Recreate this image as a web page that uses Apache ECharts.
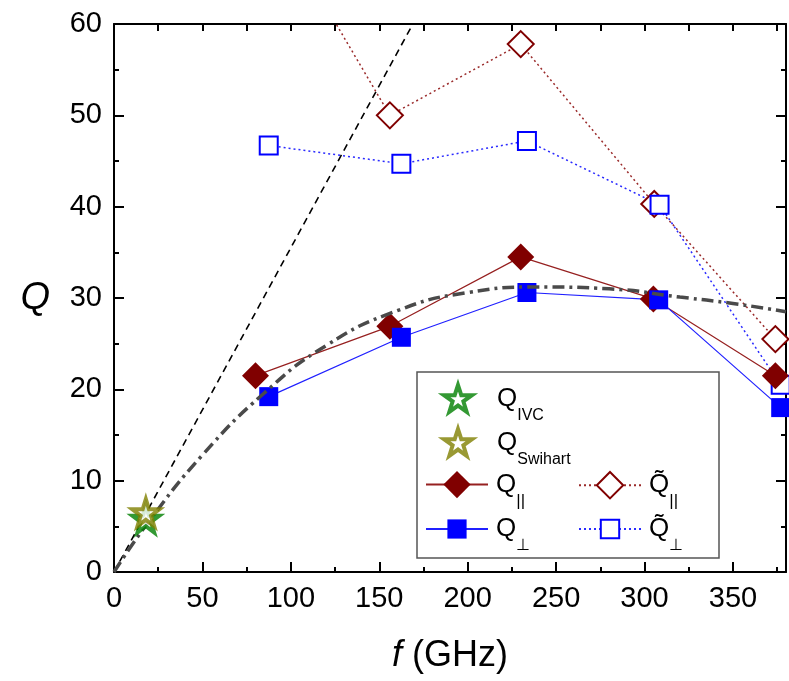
<!DOCTYPE html>
<html>
<head>
<meta charset="utf-8">
<script src="https://cdn.jsdelivr.net/npm/echarts@6/dist/echarts.min.js"></script>
<style>
  html, body { margin: 0; padding: 0; background: #fff; }
  #chart { width: 789px; height: 681px; }
</style>
</head>
<body>
<div id="chart"></div>
<script>
// 频率 (GHz) 与品质因数 Q
var fPar = [80, 156, 230, 305, 374];
var qPar = [21.5, 26.9, 34.5, 29.9, 21.5];
var fPerp = [87.5, 162.5, 233.5, 308, 377];
var qPerp = [19.2, 25.7, 30.6, 29.8, 18.0];
var fParT = [80, 156, 230, 305.5, 374];
var qParT = [75, 50.0, 57.8, 40.3, 25.5];
var fPerpT = [87.5, 162.5, 233.5, 308.5, 377];
var qPerpT = [46.7, 44.7, 47.2, 40.2, 20.5];
var ivc = [18, 5.8];
var swihart = [18, 6.5];
// 虚线（过原点的直线）
var fDash = [0, 169];
var qDash = [0, 60];
// 点划线拟合曲线
var fFit = [0, 20, 50, 85, 120, 160, 200, 240, 280, 320, 350, 380];
var qFit = [0, 5.6, 12.8, 19.6, 24.8, 28.6, 30.6, 31.2, 31.0, 30.1, 29.4, 28.5];

function pairs(xs, ys) {
    return xs.map(function (x, i) { return [x, ys[i]]; });
}

var starPath = 'path://M50,2 L61,36 L97,36 L68,57 L79,92 L50,71 L21,92 L32,57 L3,36 L39,36 Z';
var font = '"Liberation Sans", Arial, sans-serif';

var legendNames = {
    'IVC': '{qs|Q}{sub|IVC}',
    'Swihart': '{qs|Q}{sub|Swihart}',
    'par': '{q|Q}{bar|||}',
    'perp': '{q|Q}{sub|\u22A5}',
    'parT': '{q|Q\u0303}{bar|||}',
    'perpT': '{q|Q\u0303}{sub|\u22A5}'
};

var rich = {
    q: { fontSize: 26, lineHeight: 50, fontFamily: font, color: '#000', padding: [0, 0, 0, 3] },
    qs: { fontSize: 26, lineHeight: 50, fontFamily: font, color: '#000', padding: [0, 0, 0, 20] },
    sub: { fontSize: 16, lineHeight: 14, verticalAlign: 'bottom', fontFamily: font, color: '#000' },
    bar: { fontSize: 17, lineHeight: 18, verticalAlign: 'bottom', fontFamily: font, color: '#000' }
};

function legendAt(name, left, top, w, h, itemStyle) {
    var lg = {
        data: [name],
        left: left,
        top: top,
        padding: 0,
        itemWidth: w,
        itemHeight: h,
        selectedMode: false,
        formatter: function (n) { return legendNames[n]; },
        textStyle: { rich: rich }
    };
    if (itemStyle) lg.itemStyle = itemStyle;
    return lg;
}

var chart = echarts.init(document.getElementById('chart'));

var tickLabel = { color: '#000', fontSize: 29, fontFamily: font };

var option = {
    animation: false,
    backgroundColor: '#fff',
    grid: { left: 114, right: 3, top: 24, bottom: 109 },
    graphic: [{
        type: 'rect',
        shape: { x: 417, y: 372, width: 302, height: 186 },
        style: { fill: '#fff', stroke: '#555', lineWidth: 1.5 },
        z: 1
    }],
    legend: [
        legendAt('IVC', 442, 383, 28, 28, { borderWidth: 4 }),
        legendAt('Swihart', 442, 427, 28, 28, { borderWidth: 4 }),
        legendAt('par', 425, 471, 62, 34),
        legendAt('perp', 425, 516, 62, 24),
        legendAt('parT', 578, 471, 62, 33),
        legendAt('perpT', 578, 516, 62, 23)
    ],
    xAxis: [{
        type: 'value', min: 0, max: 380, interval: 50,
        name: '{i|f} (GHz)', nameLocation: 'middle', nameGap: 66,
        nameTextStyle: {
            fontSize: 36, fontFamily: font, color: '#000',
            rich: { i: { fontSize: 36, fontStyle: 'italic', fontFamily: font, color: '#000' } }
        },
        axisLine: { onZero: false, lineStyle: { color: '#000', width: 2 } },
        axisTick: { inside: true, length: 10, lineStyle: { width: 2, color: '#000' } },
        axisLabel: Object.assign({ margin: 12, showMaxLabel: false }, tickLabel),
        splitLine: { show: false }
    }, {
        type: 'value', min: 0, max: 380, interval: 25, position: 'bottom',
        axisLine: { show: false },
        axisTick: { inside: true, length: 5, lineStyle: { width: 2, color: '#000' } },
        axisLabel: { show: false },
        splitLine: { show: false }
    }, {
        type: 'value', min: 0, max: 380, interval: 25, position: 'top',
        axisLine: { onZero: false, lineStyle: { color: '#000', width: 2 } },
        axisTick: { inside: true, length: 7, lineStyle: { width: 2, color: '#000' } },
        axisLabel: { show: false },
        splitLine: { show: false }
    }],
    yAxis: [{
        type: 'value', min: 0, max: 60, interval: 10,
        name: 'Q', nameLocation: 'middle', nameGap: 64, nameRotate: 0,
        nameTextStyle: { fontSize: 38, fontStyle: 'italic', fontFamily: font, color: '#000' },
        axisLine: { onZero: false, lineStyle: { color: '#000', width: 2 } },
        axisTick: { inside: true, length: 10, lineStyle: { width: 2, color: '#000' } },
        minorTick: { show: true, splitNumber: 2, length: 5, lineStyle: { width: 2, color: '#000' } },
        axisLabel: Object.assign({ margin: 12 }, tickLabel),
        splitLine: { show: false }
    }, {
        type: 'value', min: 0, max: 60, interval: 10, position: 'right',
        axisLine: { onZero: false, lineStyle: { color: '#000', width: 2 } },
        axisTick: { inside: true, length: 10, lineStyle: { width: 2, color: '#000' } },
        minorTick: { show: true, splitNumber: 2, length: 5, lineStyle: { width: 2, color: '#000' } },
        axisLabel: { show: false },
        splitLine: { show: false }
    }],
    series: [{
        name: 'dash',
        type: 'line',
        data: pairs(fDash, qDash),
        showSymbol: false,
        lineStyle: { color: '#000', width: 1.6, type: [7, 5] },
        z: 2
    }, {
        name: 'parT',
        type: 'line',
        data: pairs(fParT, qParT),
        symbol: 'diamond',
        symbolSize: 26,
        itemStyle: { color: '#fff', borderColor: '#800000', borderWidth: 2 },
        lineStyle: { color: '#9a2a2a', width: 1.5, type: [2, 3] },
        z: 3
    }, {
        name: 'perpT',
        type: 'line',
        data: pairs(fPerpT, qPerpT),
        symbol: 'rect',
        symbolSize: 18,
        itemStyle: { color: '#fff', borderColor: '#0000ff', borderWidth: 2 },
        lineStyle: { color: '#2a2aff', width: 1.5, type: [2, 3] },
        z: 3
    }, {
        name: 'par',
        type: 'line',
        data: pairs(fPar, qPar),
        symbol: 'diamond',
        symbolSize: 27,
        itemStyle: { color: '#800000' },
        lineStyle: { color: '#962020', width: 1.2 },
        z: 4
    }, {
        name: 'perp',
        type: 'line',
        data: pairs(fPerp, qPerp),
        symbol: 'rect',
        symbolSize: 19,
        itemStyle: { color: '#0000ff' },
        lineStyle: { color: '#2020ff', width: 1.2 },
        z: 4
    }, {
        name: 'fit',
        type: 'line',
        data: pairs(fFit, qFit),
        smooth: true,
        showSymbol: false,
        lineStyle: { color: '#4a4a4a', width: 3.5, type: [12, 5, 3, 5] },
        z: 5
    }, {
        name: 'IVC',
        type: 'scatter',
        data: [ivc],
        symbol: starPath,
        symbolSize: 27,
        itemStyle: { color: '#fff', borderColor: '#008000', borderWidth: 4 },
        z: 6
    }, {
        name: 'Swihart',
        type: 'scatter',
        data: [swihart],
        symbol: starPath,
        symbolSize: 27,
        itemStyle: { color: '#fff', borderColor: '#808000', borderWidth: 4 },
        z: 6
    }]
};

chart.setOption(option);
</script>
</body>
</html>
